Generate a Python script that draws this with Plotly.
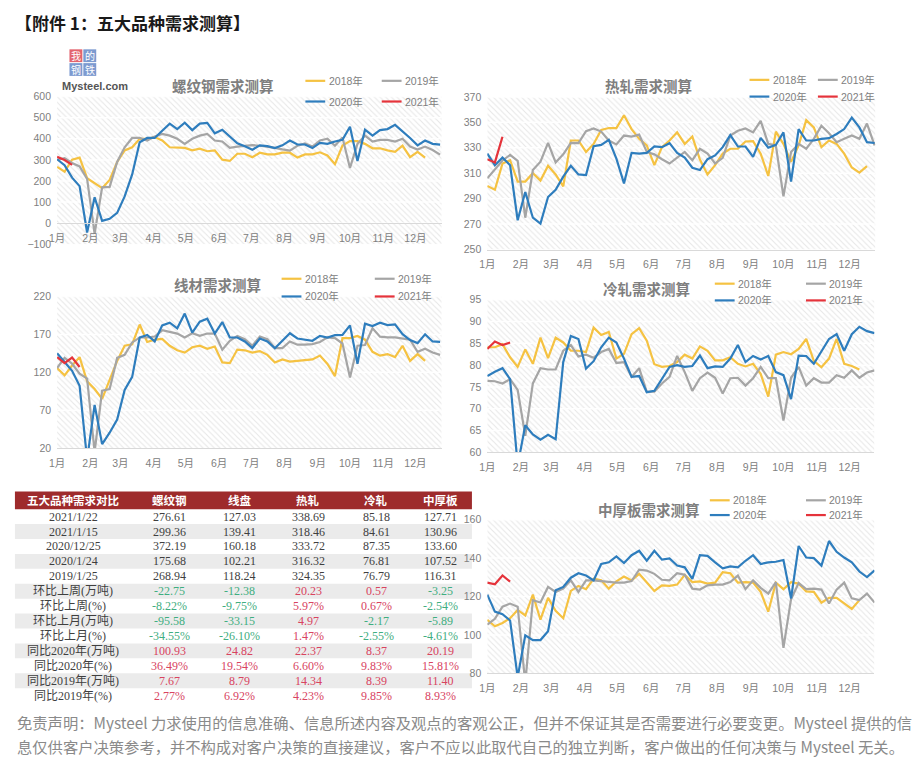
import plotly.graph_objects as go

W, H = 921, 782

# ---------------- data ----------------
MONTHS = ["1月", "2月", "3月", "4月", "5月", "6月", "7月", "8月", "9月", "10月", "11月", "12月"]
MONTH_START_DAY = [0, 31, 59, 90, 120, 151, 181, 212, 243, 273, 304, 334]
YEARS = ["2018年", "2019年", "2020年", "2021年"]

rebar_2018 = [267, 244, 301, 311, 213, 189, 166, 205, 290, 345, 360, 400, 400, 408, 392, 360, 360, 357, 345, 353,
              341, 345, 301, 295, 329, 329, 313, 334, 326, 326, 334, 334, 311, 326, 326, 336, 321, 280, 368, 389,
              389, 376, 355, 355, 345, 338, 368, 313, 338, 311]
rebar_2019 = [300, 308, 285, 268.94, 210, -50, 170, 172, 290, 360, 404, 404, 392, 411, 423, 415, 400, 376, 400, 415,
              423, 392, 387, 357, 363, 366, 370, 367, 363, 357, 350, 344, 367, 378, 363, 392, 400, 367, 406, 262,
              376, 415, 387, 395, 395, 387, 400, 363, 349, 363, 347, 325]
rebar_2020 = [303, 275, 216, 175.68, -44, 123, 11, 21, 49, 127, 231, 384, 404, 404, 438, 472, 446, 476, 441, 472,
              475, 426, 443, 410, 379, 365, 348, 369, 365, 356, 369, 392, 373, 373, 356, 381, 376, 387, 395, 457,
              295, 443, 415, 441, 446, 466, 436, 404, 369, 392, 376, 372.19]
rebar_2021 = [315, 299.36, 276.61]

hot_2018 = [300, 297, 317.6, 320.2, 303.4, 303.4, 310, 304.2, 315.8, 309, 299.6, 335.7, 335.7, 326.7, 333, 344,
            345.5, 345.5, 355.6, 344.7, 337, 331.8, 316.3, 330.5, 335.7, 342.1, 333, 338.8, 320.7, 309, 316.3,
            325.4, 329.2, 329.2, 334.9, 335.2, 325.4, 307.8, 342.7, 333, 318.9, 331.8, 351.7, 346, 330.5, 335.7,
            333, 325.4, 314.5, 310.4, 315.6]
hot_2019 = [306, 313, 320, 324.35, 319.7, 275, 312.5, 319, 333.9, 318.4, 324.8, 333.9, 333.6, 343, 345.2, 342.7,
            335.7, 332.6, 339.6, 338.8, 340.3, 326.7, 324.8, 321, 317.6, 322.3, 326.7, 320.2, 329.2, 325.4, 317.6,
            322, 339.6, 343.4, 345.2, 342.1, 351.2, 333, 331.8, 291.8, 326.7, 333, 329.2, 337, 347.3, 341.4, 334.4,
            337, 339.6, 337, 349, 331.8]
hot_2020 = [325.4, 316.3, 322.3, 316.32, 273, 295.2, 275, 270.4, 291.3, 297, 307.3, 315.8, 309, 308.6, 331.3, 332.3,
            336.2, 321.5, 302, 326, 325.4, 326, 331, 330.5, 333.6, 326, 322.3, 314.3, 312.5, 321, 324, 330.5, 340,
            331, 331, 322.8, 337.8, 330, 332.3, 342.1, 303.4, 344.7, 335.7, 335.7, 337, 337.5, 340.8, 344.7, 353.7,
            346, 334.4, 333.72]
hot_2021 = [321, 318.46, 338.69]

wire_2018 = [125.6, 116, 129, 140, 108, 98, 85, 110, 135, 155, 157, 183, 160, 163, 164, 155, 149, 146, 153, 155,
             151, 154, 133, 132, 150, 149, 146, 148, 143, 133, 137, 134, 135, 136, 137, 142, 131, 115, 165, 165,
             168, 163, 147, 142, 144, 140, 155, 135, 144, 135]
wire_2019 = [125.6, 139, 131.3, 118.24, 111.8, 15, 95.8, 98, 139, 143, 159.4, 165.9, 165.9, 167.2, 175.4, 173.7,
             171.1, 165.9, 171.5, 168, 171.1, 171.1, 149.9, 161.6, 168, 163.7, 155, 167.2, 163.7, 152, 152, 160.7,
             156.4, 156.4, 157.2, 160, 166, 165, 158, 113, 155, 156, 178, 167, 166, 166, 164, 163, 147, 151, 146, 143]
wire_2020 = [145, 134, 122, 102.21, 5, 77, 25.2, 40.3, 57.7, 96.6, 114, 165.9, 169.3, 160.7, 181.9, 185.4, 178,
             197.5, 172.4, 186.7, 190.6, 171.1, 186.2, 165.9, 165.9, 160.7, 152, 164.6, 160.7, 151.6, 161.6, 171.5,
             164.6, 162.9, 161.6, 168, 165.9, 168.9, 169.3, 181.9, 131.3, 184.1, 181, 185.4, 182.3, 183.2, 170.2,
             162.4, 158.5, 170.2, 160.7, 160.18]
wire_2021 = [140, 132, 139.41, 127.03]

cold_2018 = [84.1, 84.1, 84.8, 81.8, 79.6, 83.6, 80.3, 86.3, 81.6, 86.3, 85.2, 83.3, 83.3, 83, 88.6, 86.9, 87.6,
             81.5, 82.6, 87.1, 88.5, 85.6, 80.2, 79.6, 79.8, 80.7, 82.4, 81.5, 84.3, 83.3, 81.1, 81.1, 81.8, 80.3,
             79.7, 80.3, 78, 72.8, 82.4, 83, 82.5, 83.7, 86, 81, 79.5, 81.5, 86, 80.3, 79.8, 79]
cold_2019 = [76.4, 76.3, 75.8, 76.79, 74.3, 63.8, 75.8, 79.3, 79, 79, 83.3, 84.6, 82, 82.4, 81.7, 83, 83.7, 80.5,
             80.7, 77.3, 79.3, 73.9, 73.9, 75.8, 77.3, 82.1, 78.4, 74.1, 77, 78.3, 77.1, 73.5, 77, 77.1, 75.3, 77,
             79.6, 77, 77, 67.3, 77.1, 79.6, 75.3, 77, 76, 76, 77.7, 77.1, 78.8, 77.1, 78.3, 78.8]
cold_2020 = [77.5, 78.5, 79.3, 76.81, 57, 66.2, 64.1, 62.9, 64, 63, 80.7, 86.7, 86, 79.2, 80.9, 84.1, 86.3, 85.2,
             81.5, 77.3, 77.5, 73.8, 74.1, 77, 79.6, 80, 79.6, 79.8, 82.2, 79.3, 79.7, 79.6, 81.5, 84.6, 80.7, 82.1,
             81.3, 82.1, 78.4, 77.7, 72.2, 82.2, 82.1, 80.3, 83.3, 86, 87.1, 83.3, 87.1, 88.8, 87.8, 87.35]
cold_2021 = [83.7, 85.4, 84.61, 85.18]

plate_2018 = [107.9, 104.5, 106.2, 108.7, 113, 110.1, 121, 107.9, 119.3, 112.5, 108.7, 122.9, 125.5, 123.8, 129.2,
              128.4, 124.1, 127.9, 130.4, 128.4, 131.8, 127.5, 122.9, 125.8, 125.5, 126.2, 131.3, 127.5, 127.9,
              126.7, 127.2, 132.7, 132.1, 127.2, 127.5, 127.2, 122.4, 112.1, 127.2, 123.8, 127.5, 126.7, 122.7,
              122.4, 116.8, 119.3, 119.3, 116.4, 113.5, 118.1]
plate_2019 = [105.3, 108.4, 114.7, 116.31, 114.7, 75, 118.1, 116.9, 125, 122.4, 124.1, 128.4, 122.4, 128.4, 128.4,
              128, 127.5, 127.2, 127.2, 128, 134, 133.5, 131.8, 128.7, 128.4, 132.1, 131.3, 124.1, 123.6, 125.8,
              126.2, 126.2, 127.5, 130.9, 123.8, 128.4, 124.5, 121.5, 127.5, 93.3, 118.6, 127, 123.8, 124.1, 123.6,
              116.4, 123.6, 127.2, 119, 118.1, 121.5, 116.8]
plate_2020 = [121, 112.1, 110.8, 107.52, 78, 99.8, 97.3, 97.3, 101.9, 123.3, 125, 129.8, 132.1, 130.9, 128.4,
              136.9, 137.8, 140.9, 137.4, 141.5, 143.8, 138.6, 143.8, 139.2, 139.8, 136.1, 135.2, 129.2, 141.5,
              141.2, 137.8, 134.7, 135.7, 135.2, 138.6, 141.5, 136.9, 137.8, 138.1, 139, 119, 146.3, 140.3, 140,
              136.1, 148.9, 143.3, 140.3, 137.8, 133, 130.1, 133.6]
plate_2021 = [127.2, 126.4, 130.96, 127.71]

# table data
table_header = ["五大品种需求对比", "螺纹钢", "线盘", "热轧", "冷轧", "中厚板"]
table_row_labels = ["2021/1/22", "2021/1/15", "2020/12/25", "2020/1/24", "2019/1/25",
                    "环比上周(万吨)", "环比上周(%)", "环比上月(万吨)", "环比上月(%)",
                    "同比2020年(万吨)", "同比2020年(%)", "同比2019年(万吨)", "同比2019年(%)"]
change_is_pct = [False, True, False, True, False, True, False, True]
tbl_rebar = [276.61, 299.36, 372.19, 175.68, 268.94, -22.75, -8.22, -95.58, -34.55, 100.93, 36.49, 7.67, 2.77]
tbl_wire = [127.03, 139.41, 160.18, 102.21, 118.24, -12.38, -9.75, -33.15, -26.10, 24.82, 19.54, 8.79, 6.92]
tbl_hot = [338.69, 318.46, 333.72, 316.32, 324.35, 20.23, 5.97, 4.97, 1.47, 22.37, 6.60, 14.34, 4.23]
tbl_cold = [85.18, 84.61, 87.35, 76.81, 76.79, 0.57, 0.67, -2.17, -2.55, 8.37, 9.83, 8.39, 9.85]
tbl_plate = [127.71, 130.96, 133.60, 107.52, 116.31, -3.25, -2.54, -5.89, -4.61, 20.19, 15.81, 11.40, 8.93]

# ---------------- styles ----------------
COLORS = ["#f5c242", "#a5a5a5", "#2e7dbd", "#e5333b"]
AXIS_GRAY = "#808080"
FONT = "Liberation Sans, Noto Sans CJK SC, sans-serif"
CJK = "Noto Sans CJK SC, sans-serif"
SERIF = "Liberation Serif, Noto Sans CJK SC, serif"


def px(x):
    return x / W


def py(y):
    return 1 - y / H


charts = [
    dict(title="螺纹钢需求测算", series=[rebar_2018, rebar_2019, rebar_2020, rebar_2021],
         left=49.5, right=437.5, top=92, bottom=242, dec=411, yr=(-100, 600), dtick=100, cross=0,
         tpos=(217, 81), leg=(300, 76, 77, 21)),
    dict(title="热轧需求测算", series=[hot_2018, hot_2019, hot_2020, hot_2021],
         left=483.5, right=875, top=92.3, bottom=247.3, dec=849, yr=(250, 370), dtick=20, cross=None,
         tpos=(646, 81), leg=(748, 75, 69, 17)),
    dict(title="线材需求测算", series=[wire_2018, wire_2019, wire_2020, wire_2021],
         left=49.5, right=437.5, top=295, bottom=449, dec=411, yr=(20, 220), dtick=50, cross=None,
         tpos=(211, 283), leg=(276, 277, 94, 18)),
    dict(title="冷轧需求测算", series=[cold_2018, cold_2019, cold_2020, cold_2021],
         left=483.5, right=874, top=298.3, bottom=453.3, dec=849, yr=(60, 95), dtick=5, cross=None,
         tpos=(644, 287), leg=(713, 282, 92, 17)),
    dict(title="中厚板需求测算", series=[plate_2018, plate_2019, plate_2020, plate_2021],
         left=483.5, right=874, top=521.7, bottom=677.7, dec=849, yr=(80, 160), dtick=20, cross=None,
         tpos=(647, 511), leg=(708, 502, 97, 15)),
]

fig = go.Figure()
layout = dict(width=W, height=H, margin=dict(l=0, r=0, t=0, b=0), paper_bgcolor="white",
              plot_bgcolor="white", showlegend=False, font=dict(family=FONT, color=AXIS_GRAY))
annotations = []
shapes = []

month_ticks = [d / 7 for d in MONTH_START_DAY]

for i, c in enumerate(charts):
    xid = "x" if i == 0 else f"x{i + 1}"
    yid = "y" if i == 0 else f"y{i + 1}"
    xkey = "xaxis" if i == 0 else f"xaxis{i + 1}"
    ykey = "yaxis" if i == 0 else f"yaxis{i + 1}"
    ppw = (c["dec"] - c["left"]) / month_ticks[-1]
    xmax = (c["right"] - c["left"]) / ppw
    y0, y1 = c["yr"]

    # hatched plot background
    fig.add_trace(go.Scatter(x=[0, xmax, xmax, 0, 0], y=[y0, y0, y1, y1, y0], xaxis=xid, yaxis=yid,
                             mode="lines", line=dict(width=0), fill="toself", fillcolor="white",
                             fillpattern=dict(shape="\\", fgcolor="#cfcfcf", bgcolor="white", size=4,
                                              solidity=0.28),
                             hoverinfo="skip", showlegend=False))
    # light grid lines
    gx, gy = [], []
    v = y0 + c["dtick"]
    while v <= y1 + 1e-9:
        gx += [0, xmax, None]
        gy += [v, v, None]
        v += c["dtick"]
    fig.add_trace(go.Scatter(x=gx, y=gy, xaxis=xid, yaxis=yid, mode="lines",
                             line=dict(color="rgba(255,255,255,0.95)", width=1.5),
                             hoverinfo="skip", showlegend=False))
    for k, s in enumerate(c["series"]):
        fig.add_trace(go.Scatter(x=list(range(len(s))), y=s, xaxis=xid, yaxis=yid, mode="lines",
                                 name=YEARS[k], line=dict(color=COLORS[k], width=2.2),
                                 cliponaxis=True, showlegend=False))

    xa = dict(domain=[px(c["left"]), px(c["right"])], range=[0, xmax], tickvals=month_ticks,
              ticktext=MONTHS, showgrid=False, zeroline=False, showline=True, linecolor="#d9d9d9",
              linewidth=1, ticks="", tickfont=dict(size=10.5, color=AXIS_GRAY, family=FONT),
              ticklabelstandoff=5, fixedrange=True)
    if c["cross"] is not None:
        cross_px = c["top"] + (y1 - c["cross"]) / (y1 - y0) * (c["bottom"] - c["top"])
        xa.update(anchor="free", position=py(cross_px))
    else:
        xa.update(anchor=yid)
    ya = dict(domain=[py(c["bottom"]), py(c["top"])], range=[y0, y1], dtick=c["dtick"], tick0=y0,
              showgrid=False, zeroline=False, showline=False, ticks="", anchor=xid,
              tickfont=dict(size=10.5, color=AXIS_GRAY, family=FONT), ticklabelstandoff=5,
              fixedrange=True)
    layout[xkey] = xa
    layout[ykey] = ya

    # title
    annotations.append(dict(text=f"<b>{c['title']}</b>", x=px(c["tpos"][0]), y=py(c["tpos"][1]),
                            xref="paper", yref="paper", showarrow=False, xanchor="center",
                            yanchor="middle", font=dict(family=CJK, size=14.5, color="#7f7f7f")))
    # legend (2 x 2)
    lx, ly, ldx, ldy = c["leg"]
    for k in range(4):
        col, row = k % 2, k // 2
        x0 = lx + col * ldx
        yy = ly + row * ldy
        shapes.append(dict(type="line", xref="paper", yref="paper", x0=px(x0), x1=px(x0 + 20),
                           y0=py(yy), y1=py(yy), line=dict(color=COLORS[k], width=2.2)))
        annotations.append(dict(text=YEARS[k], x=px(x0 + 21.5), y=py(yy), xref="paper", yref="paper",
                                showarrow=False, xanchor="left", yanchor="middle",
                                font=dict(family=FONT, size=10.5, color=AXIS_GRAY)))

# ---------------- table (drawn as cells: rectangles + centred texts) ----------------
prod_cols = [tbl_rebar, tbl_wire, tbl_hot, tbl_cold, tbl_plate]
VAL_C, NEG_C, POS_C = "#3f3f3f", "#3fae80", "#d8445f"
HEAD_BG, ALT_BG = "#9e2b2c", "#ebebeb"
col_edges = [7, 125, 200, 268, 338, 405, 468]
head_top, head_bot = 493, 511
row_h = 15.15
n_rows = len(table_row_labels)

shapes.append(dict(type="rect", xref="paper", yref="paper", x0=px(col_edges[0]), x1=px(col_edges[-1]),
                   y0=py(head_bot), y1=py(head_top), fillcolor=HEAD_BG, line=dict(width=0), layer="below"))
for j, h in enumerate(table_header):
    annotations.append(dict(text=f"<b>{h}</b>", x=px((col_edges[j] + col_edges[j + 1]) / 2),
                            y=py((head_top + head_bot) / 2), xref="paper", yref="paper", showarrow=False,
                            xanchor="center", yanchor="middle",
                            font=dict(family=CJK, size=11.5, color="white")))
for r in range(n_rows):
    rt = head_bot + r * row_h
    if r % 2 == 1:
        shapes.append(dict(type="rect", xref="paper", yref="paper", x0=px(col_edges[0]),
                           x1=px(col_edges[-1]), y0=py(rt + row_h), y1=py(rt), fillcolor=ALT_BG,
                           line=dict(width=0), layer="below"))
    yc = py(rt + row_h / 2)
    annotations.append(dict(text=table_row_labels[r], x=px((col_edges[0] + col_edges[1]) / 2), y=yc,
                            xref="paper", yref="paper", showarrow=False, xanchor="center",
                            yanchor="middle", font=dict(family=SERIF, size=12, color=VAL_C)))
    for j, col in enumerate(prod_cols):
        v = col[r]
        if r < 5:
            txt, colr = f"{v:.2f}", VAL_C
        else:
            txt = f"{v:.2f}" + ("%" if change_is_pct[r - 5] else "")
            colr = NEG_C if v < 0 else POS_C
        annotations.append(dict(text=txt, x=px((col_edges[j + 1] + col_edges[j + 2]) / 2), y=yc,
                                xref="paper", yref="paper", showarrow=False, xanchor="center",
                                yanchor="middle", font=dict(family=SERIF, size=12, color=colr)))

# ---------------- page texts ----------------
annotations.append(dict(text="<b>【附件 1：五大品种需求测算】</b>", x=px(5), y=py(17), xref="paper", yref="paper",
                        showarrow=False, xanchor="left", yanchor="middle",
                        font=dict(family=CJK, size=17, color="#1a1a1a")))
disclaimer = ["免责声明：Mysteel 力求使用的信息准确、信息所述内容及观点的客观公正，但并不保证其是否需要进行必要变更。Mysteel 提供的信",
              "息仅供客户决策参考，并不构成对客户决策的直接建议，客户不应以此取代自己的独立判断，客户做出的任何决策与 Mysteel 无关。"]
for j, line in enumerate(disclaimer):
    annotations.append(dict(text=line, x=px(7), y=py(727 + 25 * j), xref="paper", yref="paper",
                            showarrow=False, xanchor="left", yanchor="middle",
                            font=dict(family=CJK, size=15.3, color="#8a8a8a")))

# logo "我的钢铁 Mysteel.com"
logo_chars = ["我", "的", "钢", "铁"]
logo_bg = ["#e3646e", "#7d9ad0", "#7d9ad0", "#7d9ad0"]
for k, ch in enumerate(logo_chars):
    cx0 = 62 + (k % 2) * 14
    cy0 = 44 + (k // 2) * 14
    shapes.append(dict(type="rect", xref="paper", yref="paper", x0=px(cx0), x1=px(cx0 + 13),
                       y0=py(cy0 + 13), y1=py(cy0), fillcolor=logo_bg[k], line=dict(width=0)))
    annotations.append(dict(text=ch, x=px(cx0 + 6.5), y=py(cy0 + 6.5), xref="paper", yref="paper",
                            showarrow=False, xanchor="center", yanchor="middle",
                            font=dict(family=CJK, size=10, color="white")))
annotations.append(dict(text="<b>Mysteel.com</b>", x=px(52), y=py(81), xref="paper", yref="paper",
                        showarrow=False, xanchor="left", yanchor="middle",
                        font=dict(family="Liberation Sans, sans-serif", size=11, color="#555555")))

layout["annotations"] = annotations
layout["shapes"] = shapes
fig.update_layout(**layout)
fig.write_html("out.html")
